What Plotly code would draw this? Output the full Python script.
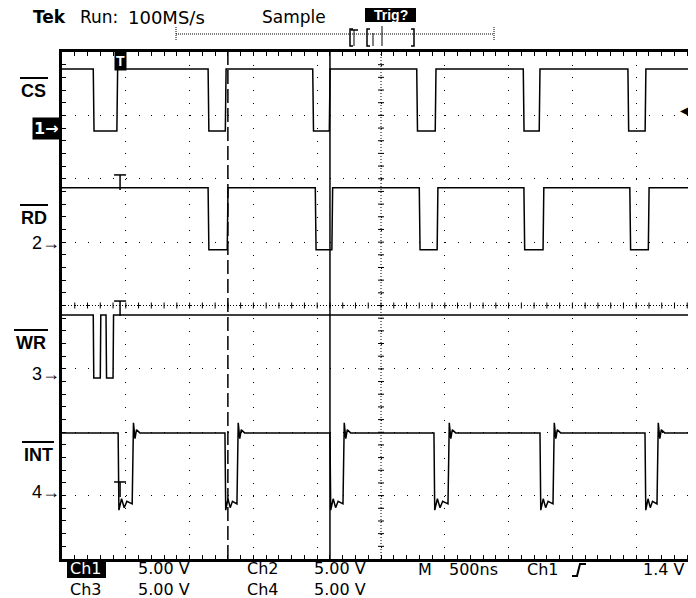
import plotly.graph_objects as go

# ---------------- scope settings ----------------
NS_PER_DIV = 500          # M 500ns
V_PER_DIV = 5.0           # 5.00 V / div on every channel
X_DIVS, Y_DIVS = 10, 8
MINOR_PER_DIV = 5

# ---------------- channel data ----------------
CH_NAMES = ["CS", "RD", "WR", "INT"]
CH_NUMBERS = ["1", "2", "3", "4"]
CH_POS_DIV = [2.80, 0.99, -1.08, -2.94]      # ground marker positions (div from centre)

CS_HIGH_V, CS_LOW_V = 4.65, -0.24
RD_HIGH_V, RD_LOW_V = 4.34, -0.55
WR_HIGH_V, WR_LOW_V = 4.65, -0.32
INT_HIGH_V, INT_LOW_V = 4.65, -0.95
INT_OVERSHOOT_V = [5.45, 4.2, 4.9]             # ringing after INT rising edge
INT_LOW_RING_V = [-1.45, -0.55, -1.25, -0.75]  # ringing while INT is low

# (falling edge, rising edge) in ns from left of screen
CS_PULSES_NS = [(245, 430), (1145, 1280), (1965, 2095), (2780, 2925), (3615, 3740), (4435, 4570)]
RD_PULSES_NS = [(1145, 1295), (1985, 2115), (2800, 2940), (3620, 3770), (4450, 4595)]
WR_PULSES_NS = [(245, 300), (345, 400)]
INT_PULSES_NS = [(440, 550), (1277, 1371), (2100, 2202), (2915, 3025), (3746, 3848), (4569, 4663)]

CURSOR_T_NS = [1300, 2100]     # dashed cursor, solid cursor
TRIG_T_NS = 455
TRIG_LEVEL_V = 1.4
T_MARK_Y_DIV = [1.95, -0.04, -2.895]   # trigger "T" marks of channels 2..4

# ---------------- page geometry (page pixels; body has an 8 px margin) ----------------
BODY = 8
W, H = 696 - BODY, 598 - BODY
P_LEFT, P_TOP, P_RIGHT, P_BOTTOM = 62, 52, 696, 559
ML, MT, MB = P_LEFT - BODY, P_TOP - BODY, H - (P_BOTTOM - BODY)
PW, PH = P_RIGHT - P_LEFT, P_BOTTOM - P_TOP
DIV_PX_X = 63.8
X_MAX_NS = NS_PER_DIV * PW / DIV_PX_X
FONT_SCOPE = "DejaVu Sans"
FONT_LBL = "Liberation Sans"


def xp(px):
    return (px - P_LEFT) / PW


def yp(py):
    return (P_BOTTOM - py) / PH


def to_div(pos, volts):
    return [pos + v / V_PER_DIV for v in volts]


def square_wave(pulses, high, low, edge=6):
    t, v = [0.0], [high]
    for f, r in pulses:
        t += [f, f + edge, r, r + edge]
        v += [high, low, low, high]
    t.append(X_MAX_NS + 50)
    v.append(high)
    return t, v


def int_wave(pulses, high, low):
    t, v = [0.0], [high]
    for f, r in pulses:
        t += [f, f + 6]
        v += [high, INT_LOW_RING_V[0]]
        span = r - f - 6
        for i, rv in enumerate(INT_LOW_RING_V[1:], start=1):
            t.append(f + 6 + span * i / (len(INT_LOW_RING_V) + 1))
            v.append(rv)
        t.append(r)
        v.append(low)
        for j, ov in enumerate(INT_OVERSHOOT_V):
            t.append(r + 10 + 12 * j)
            v.append(ov)
        t.append(r + 60)
        v.append(high)
    t.append(X_MAX_NS + 50)
    v.append(high)
    return t, v


fig = go.Figure()

waves = [
    square_wave(CS_PULSES_NS, CS_HIGH_V, CS_LOW_V),
    square_wave(RD_PULSES_NS, RD_HIGH_V, RD_LOW_V),
    square_wave(WR_PULSES_NS, WR_HIGH_V, WR_LOW_V, edge=4),
    int_wave(INT_PULSES_NS, INT_HIGH_V, INT_LOW_V),
]
for name, pos, (t, v) in zip(CH_NAMES, CH_POS_DIV, waves):
    fig.add_trace(go.Scatter(x=t, y=to_div(pos, v), mode="lines", name=name,
                             line=dict(color="black", width=1.5), hoverinfo="skip",
                             showlegend=False))

shapes = []
annotations = []

# centre cross of the graticule (dense dots + small ticks)
cx = X_DIVS / 2 * NS_PER_DIV
shapes.append(dict(type="line", xref="x", yref="y", x0=cx, x1=cx, y0=-Y_DIVS / 2, y1=Y_DIVS / 2,
                   line=dict(color="black", width=1, dash="1px,2px")))
shapes.append(dict(type="line", xref="x", yref="y", x0=0, x1=X_MAX_NS, y0=0, y1=0,
                   line=dict(color="black", width=1, dash="1px,2px")))
for k in range(1, Y_DIVS * MINOR_PER_DIV):
    yy = -Y_DIVS / 2 + k / MINOR_PER_DIV
    shapes.append(dict(type="line", xref="x", yref="y", xsizemode="pixel", xanchor=cx,
                       x0=-3, x1=3, y0=yy, y1=yy, line=dict(color="black", width=1)))
for k in range(1, X_DIVS * MINOR_PER_DIV):
    xx = k * NS_PER_DIV / MINOR_PER_DIV
    if xx > X_MAX_NS:
        break
    shapes.append(dict(type="line", xref="x", yref="y", ysizemode="pixel", yanchor=0,
                       y0=-3, y1=3, x0=xx, x1=xx, line=dict(color="black", width=1)))

# cursors
shapes.append(dict(type="line", xref="x", yref="paper", x0=CURSOR_T_NS[0], x1=CURSOR_T_NS[0], y0=0, y1=1,
                   line=dict(color="black", width=1.5, dash="14px,5px")))
shapes.append(dict(type="line", xref="x", yref="paper", x0=CURSOR_T_NS[1], x1=CURSOR_T_NS[1], y0=0, y1=1,
                   line=dict(color="black", width=1.5)))

# trigger "T" markers for channels 2..4
for yy in T_MARK_Y_DIV:
    shapes.append(dict(type="line", xref="x", yref="y", xsizemode="pixel", xanchor=TRIG_T_NS,
                       ysizemode="pixel", yanchor=yy, x0=-6, x1=6, y0=7, y1=7,
                       line=dict(color="black", width=1.5)))
    shapes.append(dict(type="line", xref="x", yref="y", xsizemode="pixel", xanchor=TRIG_T_NS,
                       ysizemode="pixel", yanchor=yy, x0=0, x1=0, y0=7, y1=-8,
                       line=dict(color="black", width=1.5)))
# channel-1 trigger marker (black box with white T) at the top edge
annotations.append(dict(x=TRIG_T_NS, xref="x", y=yp(61), yref="paper", text="<b>T</b>",
                        showarrow=False, font=dict(family=FONT_LBL, size=14, color="white"),
                        bgcolor="black", borderpad=1, xanchor="center", yanchor="middle"))

# trigger level arrow on the right (CH1 at 1.4 V)
trig_y = CH_POS_DIV[0] + TRIG_LEVEL_V / V_PER_DIV
annotations.append(dict(x=xp(695), y=trig_y, xref="paper", yref="y", text="◀", showarrow=False,
                        font=dict(family=FONT_SCOPE, size=17, color="black"),
                        xanchor="right", yanchor="middle", borderpad=0))

# channel labels with overbars, and ground markers
LBL_Y_PX = [91, 218, 343, 455]
LBL_X_PX = [34, 34, 31, 38]
LBL_W_PX = [28, 28, 34, 32]
for name, lx, ly, lw in zip(CH_NAMES, LBL_X_PX, LBL_Y_PX, LBL_W_PX):
    annotations.append(dict(x=xp(lx), y=yp(ly), xref="paper", yref="paper", text="<b>%s</b>" % name,
                            showarrow=False, font=dict(family=FONT_LBL, size=18, color="black"),
                            xanchor="center", yanchor="middle"))
    shapes.append(dict(type="line", xref="paper", yref="paper", x0=xp(lx - lw / 2), x1=xp(lx + lw / 2),
                       y0=yp(ly - 13), y1=yp(ly - 13), line=dict(color="black", width=2)))
for i, (num, pos) in enumerate(zip(CH_NUMBERS, CH_POS_DIV)):
    if i == 0:
        annotations.append(dict(x=xp(61), y=pos, xref="paper", yref="y", text="<b>%s→</b>" % num,
                                showarrow=False, font=dict(family=FONT_SCOPE, size=16, color="white"),
                                bgcolor="black", borderpad=1, xanchor="right", yanchor="middle"))
    else:
        annotations.append(dict(x=xp(62), y=pos, xref="paper", yref="y", text="%s→" % num,
                                showarrow=False, font=dict(family=FONT_LBL, size=18, color="black"),
                                xanchor="right", yanchor="middle"))


def txt(s, x, y, size=17, color="black", bg=None, family=FONT_SCOPE, anchor="left"):
    d = dict(x=xp(x), y=yp(y), xref="paper", yref="paper", text=s, showarrow=False,
             font=dict(family=family, size=size, color=color), xanchor=anchor, yanchor="middle")
    if bg:
        d.update(bgcolor=bg, borderpad=0)
    annotations.append(d)


# header texts
txt("<b>Tek</b>", 31, 17, size=17)
txt("Run:", 78, 17, size=17)
txt("100MS/s", 126, 17, size=18)
txt("Sample", 260, 17, size=17)
shapes.append(dict(type="rect", xref="paper", yref="paper", x0=xp(365), x1=xp(416), y0=yp(6), y1=yp(22),
                   fillcolor="black", line=dict(width=0)))
txt("<b>Trig?</b>", 390.5, 15, size=14, color="white", family=FONT_LBL, anchor="center")

# record length indicator
shapes.append(dict(type="line", xref="paper", yref="paper", x0=xp(176), x1=xp(494), y0=yp(34), y1=yp(34),
                   line=dict(color="black", width=1, dash="1px,1px")))
for bx in (176, 494):
    shapes.append(dict(type="line", xref="paper", yref="paper", x0=xp(bx), x1=xp(bx), y0=yp(27), y1=yp(41),
                       line=dict(color="black", width=1, dash="1px,1px")))
for bx, d in ((350, 1), (367, 1), (414, -1)):
    shapes.append(dict(type="path", xref="paper", yref="paper",
                       path="M {a},{t} L {b},{t} L {b},{u} L {a},{u}".format(
                           a=xp(bx + 3 * d), b=xp(bx), t=yp(29), u=yp(46)),
                       line=dict(color="black", width=1.5)))
for bx, top in ((354, 30), (373, 33), (382, 26)):
    shapes.append(dict(type="line", xref="paper", yref="paper", x0=xp(bx), x1=xp(bx), y0=yp(top), y1=yp(46),
                       line=dict(color="black", width=1)))
shapes.append(dict(type="line", xref="paper", yref="paper", x0=xp(351), x1=xp(358), y0=yp(30), y1=yp(30),
                   line=dict(color="black", width=1.5)))

# footer texts (two rows written as two-line blocks)
FOOT_Y = 579
shapes.append(dict(type="rect", xref="paper", yref="paper", x0=xp(67), x1=xp(106), y0=yp(561), y1=yp(578),
                   fillcolor="black", line=dict(width=0)))
txt("<span style='color:white'>Ch1</span><br>Ch3", 68, FOOT_Y, size=16)
txt("5.00 V<br>5.00 V", 136, FOOT_Y, size=16)
txt("Ch2<br>Ch4", 245, FOOT_Y, size=16)
txt("5.00 V<br>5.00 V", 312, FOOT_Y, size=16)
txt("M", 416, 569, size=16)
txt("500ns", 447, 569, size=16)
txt("Ch1", 525, 569, size=16)
txt("1.4 V", 641, 569, size=16)
shapes.append(dict(type="path", xref="paper", yref="paper",
                   path="M {a},{b} L {c},{b} L {d},{e} L {f},{e}".format(
                       a=xp(572), b=yp(576), c=xp(577), d=xp(580), e=yp(564), f=xp(586)),
                   line=dict(color="black", width=2)))

fig.update_layout(
    width=W, height=H, autosize=False,
    margin=dict(l=ML, r=0, t=MT, b=MB, pad=0),
    paper_bgcolor="white", plot_bgcolor="white",
    shapes=shapes, annotations=annotations,
    xaxis=dict(range=[0, X_MAX_NS], dtick=NS_PER_DIV, tick0=0, showticklabels=False,
               showgrid=True, gridcolor="black", gridwidth=1, griddash="1px,11.68px",
               zeroline=False, showline=True, linecolor="black", linewidth=3, mirror="ticks",
               ticks="inside", ticklen=4, tickcolor="black", tickwidth=1,
               minor=dict(dtick=NS_PER_DIV / MINOR_PER_DIV, ticks="inside", ticklen=4,
                          tickcolor="black", showgrid=False)),
    yaxis=dict(range=[-Y_DIVS / 2, Y_DIVS / 2], dtick=1, tick0=0, showticklabels=False,
               showgrid=True, gridcolor="black", gridwidth=1, griddash="1px,11.76px",
               zeroline=False, showline=True, linecolor="black", linewidth=3,
               ticks="inside", ticklen=4, tickcolor="black", tickwidth=1,
               minor=dict(dtick=1 / MINOR_PER_DIV, ticks="inside", ticklen=4,
                          tickcolor="black", showgrid=False)),
)

fig.write_html("out.html")
